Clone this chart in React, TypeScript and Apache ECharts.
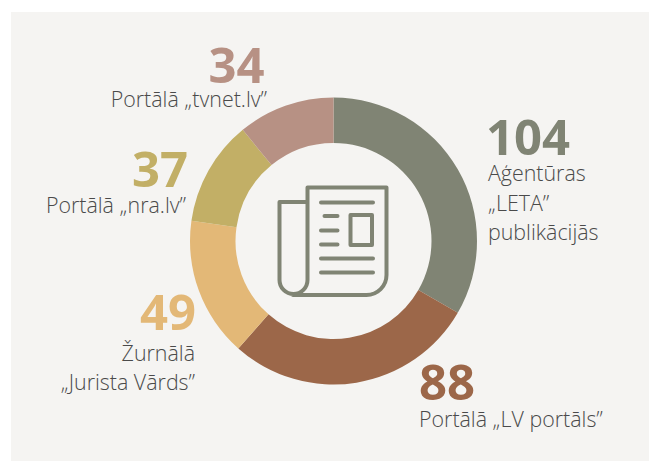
import React, { useEffect, useRef } from "react";
import * as echarts from "echarts";

const names = ["Aģentūras „LETA” publikācijās", "Portālā „LV portāls”", "Žurnālā „Jurista Vārds”", "Portālā „nra.lv”", "Portālā „tvnet.lv”"];
const values = [104, 88, 49, 37, 34];
const colors = ["#808474", "#9c6749", "#e3b877", "#c2af66", "#b79184"];

const iconPath =
  "M307 202H279.5V280A14 14 0 0 0 307.5 280V187.5H386.5V275A20 20 0 0 1 366.5 295H293" +
  "M321 202.5H373M324.5 216H337.5M321 230.5H337.5M321 244.5H337.5M321 258.5H373M321 272.5H373" +
  "M350.5 215H372V245H350.5Z";

echarts.graphic.registerShape("newsIcon", echarts.graphic.extendPath(iconPath, {}));

const FONT = '"Open Sans", sans-serif';
const TEXT = "#4a4a4a";

function num(i: number, x: number, y: number, align: string) {
  return {
    type: "text",
    x,
    y,
    style: {
      text: String(values[i]),
      fontFamily: FONT,
      fontWeight: 700,
      fontSize: 49,
      fill: colors[i],
      align,
      verticalAlign: "middle",
    },
  };
}

function lab(text: string, x: number, y: number, align: string) {
  return {
    type: "text",
    x,
    y,
    style: {
      text,
      fontFamily: FONT,
      fontWeight: 300,
      fontSize: 21.4,
      fill: TEXT,
      align,
      verticalAlign: "middle",
    },
  };
}

export default function App() {
  const ref = useRef<HTMLDivElement>(null);
  useEffect(() => {
    const chart = echarts.init(ref.current!, undefined, { renderer: "svg" });
    chart.setOption({
      animation: false,
      backgroundColor: "#ffffff",
      graphic: [
        { type: "rect", z: -10, shape: { x: 11, y: 12, width: 638, height: 449 }, style: { fill: "#f5f4f2" } },
        { type: "newsIcon", style: { fill: "none", stroke: "#808474", lineWidth: 4, lineCap: "round", lineJoin: "round" } },
        num(0, 486, 136, "left"),
        lab("Aģentūras", 488, 172, "left"),
        lab("„LETA”", 488, 202, "left"),
        lab("publikācijās", 488, 231, "left"),
        num(1, 419, 381, "left"),
        lab(names[1], 419, 418, "left"),
        num(2, 196, 311, "right"),
        lab("Žurnālā", 195, 352, "right"),
        lab("„Jurista Vārds”", 195, 381, "right"),
        num(3, 188, 168, "right"),
        lab(names[3], 186, 204, "right"),
        num(4, 264.5, 64, "right"),
        lab(names[4], 267, 98, "right"),
      ],
      series: [
        {
          type: "pie",
          center: [333.5, 241],
          radius: [98, 143.5],
          startAngle: 90,
          clockwise: true,
          label: { show: false },
          labelLine: { show: false },
          emphasis: { disabled: true },
          data: values.map((value, i) => ({ name: names[i], value, itemStyle: { color: colors[i] } })),
        },
      ],
    });
    return () => chart.dispose();
  }, []);
  return <div ref={ref} style={{ position: "absolute", left: 0, top: 0, width: 649, height: 461 }} />;
}
